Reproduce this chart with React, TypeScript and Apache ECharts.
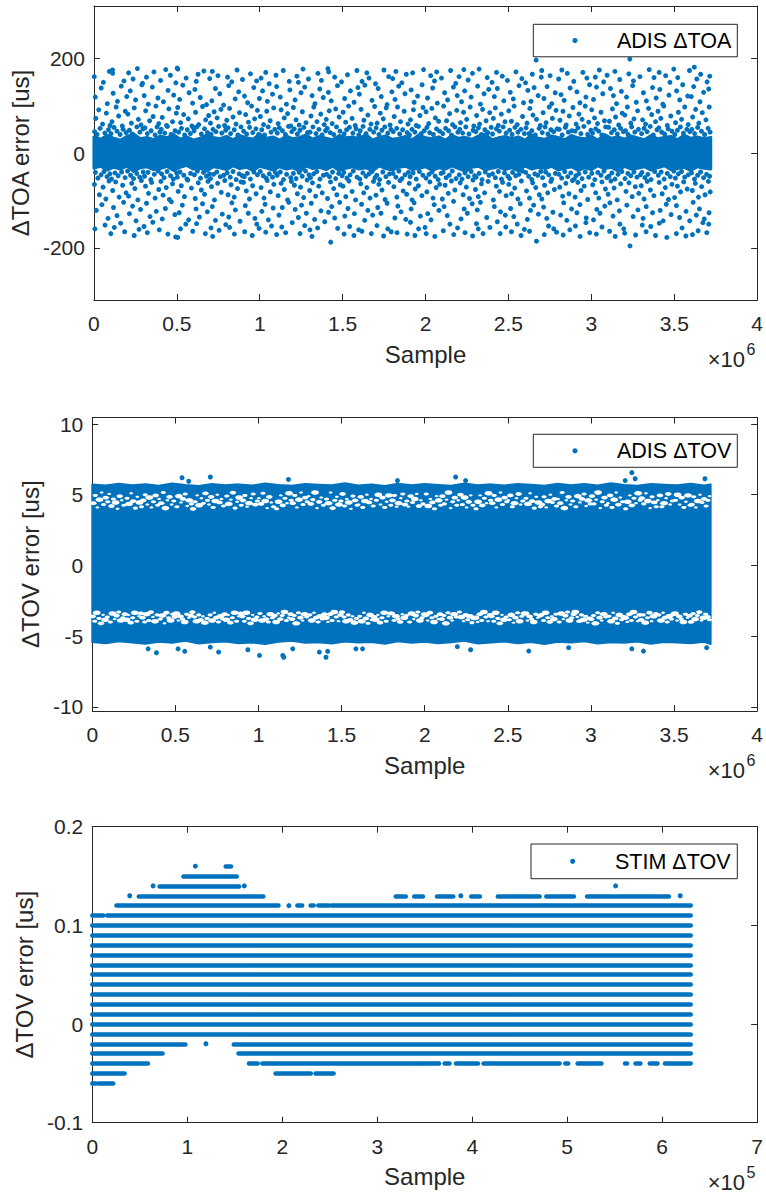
import React, { useEffect, useRef } from 'react';
import * as echarts from 'echarts';

const BLUE = '#0072BD';
const INK = '#262626';
const FONT = '"Liberation Sans", Arial, sans-serif';

// ---------- Chart 1 : ADIS ΔTOA (sample ×10^6, error in us) ----------
const toaYTicks = [-200, 0, 200];
const toaBandX = [0, 0.04, 0.08, 0.12, 0.16, 0.2, 0.24, 0.28, 0.32, 0.36, 0.4, 0.44, 0.48, 0.52, 0.56, 0.6, 0.64, 0.68, 0.72, 0.76, 0.8, 0.84, 0.88, 0.92, 0.96, 1.0, 1.04, 1.08, 1.12, 1.16, 1.2, 1.24, 1.28, 1.32, 1.36, 1.4, 1.44, 1.48, 1.52, 1.56, 1.6, 1.64, 1.68, 1.72, 1.76, 1.8, 1.84, 1.88, 1.92, 1.96, 2.0, 2.04, 2.08, 2.12, 2.16, 2.2, 2.24, 2.28, 2.32, 2.36, 2.4, 2.44, 2.48, 2.52, 2.56, 2.6, 2.64, 2.68, 2.72, 2.76, 2.8, 2.84, 2.88, 2.92, 2.96, 3.0, 3.04, 3.08, 3.12, 3.16, 3.2, 3.24, 3.28, 3.32, 3.36, 3.4, 3.44, 3.48, 3.52, 3.56, 3.6, 3.64, 3.68, 3.72];
const toaBandUpper = [
  34, 29, 37, 31, 27, 35, 40, 30, 33, 28, 36, 32, 39, 29, 34, 27, 31, 38, 33, 30,
  35, 28, 37, 32, 29, 40, 31, 34, 27, 36, 30, 33, 38, 29, 35, 31, 28, 37, 32, 34,
  30, 39, 27, 33, 36, 29, 31, 35, 28, 38, 32, 30, 34, 27, 37, 31, 33, 29, 36, 40,
  28, 32, 35, 30, 34, 27, 38, 31, 29, 36, 33, 28, 37, 32, 30, 35, 27, 39, 31, 34,
  29, 36, 32, 28, 37, 30, 33, 35, 28, 38, 31, 34, 30, 33];
const toaBandLower = [
  -32, -28, -36, -30, -34, -27, -39, -31, -29, -35, -33, -28, -37, -30, -26, -34, -32, -38, -29, -31,
  -35, -27, -33, -30, -37, -28, -32, -36, -29, -34, -31, -39, -27, -33, -30, -35, -28, -37, -32, -29,
  -34, -31, -38, -27, -33, -36, -30, -28, -35, -32, -29, -37, -31, -34, -27, -33, -39, -30, -28, -36,
  -32, -29, -35, -31, -38, -27, -34, -30, -33, -28, -36, -32, -29, -37, -31, -35, -27, -33, -30, -38,
  -28, -34, -32, -29, -36, -31, -27, -35, -33, -30, -37, -29, -32, -34];
const toaOutliersUpper: number[][] = [
  [0.004,45],[0.019,39],[0.037,52],[0.066,42],[0.088,49],[0.011,73],[0.029,91],[0.052,61],[0.075,84],[0.097,58],[0.008,118],[0.044,137],[0.081,104],[0.002,161],[0.057,149],[0.093,172],
  [0.103,41],[0.121,54],[0.139,46],[0.158,39],[0.176,50],[0.194,43],[0.109,66],[0.134,97],[0.149,78],[0.171,57],[0.189,88],[0.116,126],[0.142,109],[0.165,141],[0.198,119],[0.112,175],[0.113,168],[0.181,152],
  [0.214,48],[0.231,40],[0.259,55],[0.277,44],[0.296,51],[0.205,82],[0.226,63],[0.243,95],[0.268,71],[0.284,59],[0.219,131],[0.251,112],[0.289,144],[0.209,169],[0.236,156],[0.262,178],[0.293,147],
  [0.308,53],[0.322,41],[0.345,47],[0.369,38],[0.381,55],[0.398,44],[0.312,89],[0.336,68],[0.357,77],[0.374,99],[0.391,62],[0.303,121],[0.328,103],[0.352,139],[0.386,116],[0.317,160],[0.362,171],
  [0.406,50],[0.427,42],[0.443,56],[0.466,39],[0.489,47],[0.412,75],[0.438,58],[0.452,93],[0.474,66],[0.497,84],[0.419,108],[0.447,132],[0.481,122],[0.402,153],[0.433,176],[0.461,164],[0.494,148],
  [0.511,44],[0.528,52],[0.547,38],[0.563,49],[0.582,41],[0.599,54],[0.505,96],[0.523,64],[0.541,81],[0.569,72],[0.591,57],[0.517,113],[0.536,143],[0.574,127],[0.595,105],[0.502,179],[0.506,177],[0.556,158],
  [0.604,47],[0.621,55],[0.648,40],[0.667,51],[0.685,43],[0.613,86],[0.632,60],[0.655,98],[0.674,70],[0.692,79],[0.609,134],[0.641,117],[0.679,102],[0.617,151],[0.628,166],[0.663,173],[0.698,157],
  [0.707,39],[0.718,50],[0.736,45],[0.752,56],[0.771,42],[0.794,48],[0.703,63],[0.725,87],[0.743,74],[0.766,92],[0.788,58],[0.711,110],[0.733,136],[0.759,125],[0.782,101],[0.714,172],[0.748,163],
  [0.809,53],[0.824,41],[0.846,49],[0.868,38],[0.887,55],[0.801,69],[0.818,94],[0.839,76],[0.857,61],[0.878,85],[0.813,142],[0.852,114],[0.873,129],[0.806,160],[0.831,150],[0.863,175],[0.896,155],
  [0.903,46],[0.921,40],[0.939,54],[0.958,43],[0.977,51],[0.993,39],[0.915,81],[0.932,65],[0.951,99],[0.969,72],[0.986,90],[0.908,120],[0.927,106],[0.964,138],[0.998,115],[0.944,167],[0.981,152],
  [1.012,49],[1.029,38],[1.051,55],[1.068,44],[1.091,50],[1.004,77],[1.023,60],[1.042,88],[1.063,68],[1.084,95],[1.017,131],[1.046,109],[1.077,124],[1.008,158],[1.036,170],[1.057,146],[1.098,164],
  [1.106,42],[1.118,53],[1.137,47],[1.155,39],[1.174,56],[1.193,45],[1.111,62],[1.129,91],[1.148,74],[1.168,83],[1.187,57],[1.102,140],[1.124,118],[1.161,103],[1.182,133],[1.142,174],[1.178,151],
  [1.208,51],[1.227,40],[1.243,48],[1.266,54],[1.288,43],[1.203,96],[1.219,70],[1.238,59],[1.257,87],[1.279,64],[1.213,112],[1.249,127],[1.271,139],[1.224,162],[1.233,149],[1.261,177],[1.294,156],
  [1.304,44],[1.321,55],[1.339,41],[1.357,50],[1.376,38],[1.397,47],[1.309,78],[1.326,97],[1.345,66],[1.368,82],[1.389,60],[1.316,121],[1.333,104],[1.362,135],[1.383,117],[1.351,168],[1.372,153],
  [1.407,52],[1.425,43],[1.446,39],[1.463,55],[1.484,46],[1.401,71],[1.419,89],[1.437,62],[1.458,93],[1.479,76],[1.414,128],[1.431,110],[1.469,142],[1.411,178],[1.416,171],[1.452,160],[1.493,150],
  [1.509,40],[1.524,49],[1.541,54],[1.562,42],[1.581,51],[1.598,38],[1.503,86],[1.518,65],[1.536,99],[1.557,73],[1.576,58],[1.512,115],[1.547,131],[1.569,107],[1.592,138],[1.529,165],[1.586,174],
  [1.606,47],[1.623,56],[1.641,41],[1.664,50],[1.687,44],[1.611,92],[1.628,69],[1.652,80],[1.671,61],[1.693,98],[1.601,124],[1.634,143],[1.677,111],[1.617,151],[1.646,169],[1.659,158],[1.698,146],
  [1.702,53],[1.719,39],[1.737,48],[1.754,55],[1.772,42],[1.791,50],[1.708,63],[1.727,84],[1.745,72],[1.763,95],[1.786,59],[1.714,136],[1.733,119],[1.768,102],[1.797,129],[1.749,175],[1.778,161],
  [1.805,45],[1.826,52],[1.844,40],[1.862,49],[1.889,43],[1.811,77],[1.831,97],[1.849,66],[1.871,88],[1.894,61],[1.816,113],[1.838,141],[1.876,125],[1.802,157],[1.821,172],[1.857,148],[1.884,166],
  [1.903,38],[1.918,50],[1.936,44],[1.957,56],[1.974,41],[1.992,47],[1.909,70],[1.927,91],[1.944,58],[1.966,79],[1.985,96],[1.913,133],[1.931,107],[1.952,120],[1.979,144],[1.922,169],[1.988,176],
  [2.008,54],[2.025,43],[2.047,39],[2.066,51],[2.085,46],[2.003,87],[2.019,62],[2.038,94],[2.059,74],[2.079,67],[2.012,116],[2.043,137],[2.071,105],[2.031,163],[2.054,152],[2.067,171],[2.096,158],
  [2.104,41],[2.121,52],[2.139,47],[2.156,38],[2.177,55],[2.195,44],[2.109,99],[2.127,68],[2.145,83],[2.163,60],[2.188,90],[2.115,127],[2.133,112],[2.168,139],[2.191,121],[2.151,174],[2.182,147],
  [2.206,50],[2.224,42],[2.243,55],[2.262,40],[2.287,48],[2.211,64],[2.229,86],[2.248,71],[2.269,97],[2.291,57],[2.217,108],[2.236,131],[2.275,118],[2.202,161],[2.231,176],[2.257,154],[2.283,168],
  [2.303,45],[2.319,53],[2.337,39],[2.358,49],[2.376,43],[2.396,54],[2.308,79],[2.326,61],[2.344,92],[2.365,68],[2.387,85],[2.314,141],[2.331,103],[2.353,125],[2.381,134],[2.323,177],[2.372,159],
  [2.404,40],[2.427,51],[2.445,46],[2.468,55],[2.486,42],[2.409,73],[2.421,95],[2.439,58],[2.457,82],[2.479,66],[2.415,119],[2.433,136],[2.472,110],[2.401,149],[2.428,170],[2.463,162],[2.494,153],
  [2.507,48],[2.522,39],[2.539,54],[2.557,44],[2.575,50],[2.596,41],[2.502,89],[2.518,67],[2.534,99],[2.553,60],[2.585,77],[2.511,128],[2.529,114],[2.564,142],[2.591,106],[2.545,171],[2.581,157],
  [2.606,53],[2.623,41],[2.641,47],[2.662,38],[2.685,52],[2.612,63],[2.629,94],[2.648,80],[2.669,71],[2.692,58],[2.617,132],[2.636,109],[2.655,138],[2.679,121],[2.603,148],[2.644,166],[2.667,196],[2.698,160],
  [2.704,43],[2.721,55],[2.738,40],[2.756,49],[2.773,45],[2.794,51],[2.709,85],[2.727,64],[2.746,97],[2.765,73],[2.787,90],[2.714,115],[2.733,140],[2.761,104],[2.782,127],[2.701,174],[2.751,163],
  [2.806,50],[2.824,38],[2.843,54],[2.861,44],[2.883,47],[2.811,69],[2.829,88],[2.848,59],[2.867,78],[2.889,96],[2.817,123],[2.836,111],[2.872,137],[2.803,156],[2.822,175],[2.855,168],[2.894,151],
  [2.902,46],[2.919,53],[2.937,41],[2.955,56],[2.978,39],[2.997,48],[2.908,61],[2.925,82],[2.944,71],[2.963,99],[2.984,65],[2.913,129],[2.931,106],[2.967,118],[2.989,144],[2.949,170],[2.973,158],
  [3.007,42],[3.026,51],[3.044,46],[3.063,38],[3.086,55],[3.002,91],[3.019,74],[3.037,62],[3.058,86],[3.079,68],[3.013,113],[3.031,139],[3.069,125],[3.024,160],[3.048,175],[3.074,150],[3.095,164],
  [3.104,54],[3.121,43],[3.138,49],[3.157,40],[3.176,52],[3.193,45],[3.109,67],[3.127,93],[3.146,76],[3.165,59],[3.186,84],[3.115,136],[3.133,121],[3.152,104],[3.181,130],[3.142,172],[3.171,155],
  [3.206,47],[3.221,39],[3.243,55],[3.262,44],[3.284,50],[3.202,80],[3.217,97],[3.238,63],[3.257,72],[3.279,89],[3.212,118],[3.249,142],[3.271,107],[3.226,167],[3.232,198],[3.254,152],[3.293,161],
  [3.303,41],[3.318,52],[3.336,45],[3.355,56],[3.374,38],[3.396,49],[3.309,70],[3.327,61],[3.345,94],[3.364,81],[3.387,66],[3.314,127],[3.332,110],[3.369,138],[3.391,116],[3.349,176],[3.378,159],
  [3.407,53],[3.424,44],[3.442,40],[3.463,51],[3.486,46],[3.402,88],[3.419,73],[3.437,99],[3.458,58],[3.479,78],[3.413,134],[3.431,103],[3.468,122],[3.409,170],[3.448,163],[3.474,149],[3.497,177],
  [3.503,39],[3.519,48],[3.537,55],[3.555,42],[3.576,50],[3.594,45],[3.508,64],[3.525,86],[3.544,71],[3.563,97],[3.584,60],[3.514,131],[3.533,112],[3.551,144],[3.581,120],[3.521,159],[3.592,174],
  [3.606,50],[3.623,41],[3.641,54],[3.664,46],[3.683,39],[3.704,52],[3.716,44],[3.611,76],[3.629,92],[3.648,63],[3.669,85],[3.691,70],[3.711,97],[3.603,119],[3.617,140],[3.655,108],[3.677,128],[3.708,135],[3.621,181],[3.636,156],[3.659,166],[3.698,150],[3.714,162],
];
const toaOutliersLower: number[][] = [
  [0.009,-41],[0.024,-53],[0.043,-46],[0.061,-39],[0.079,-50],[0.096,-44],[0.003,-66],[0.033,-88],[0.055,-72],[0.072,-97],[0.091,-59],[0.014,-121],[0.048,-109],[0.085,-138],[0.006,-160],[0.067,-152],
  [0.106,-55],[0.127,-42],[0.146,-48],[0.167,-40],[0.188,-52],[0.113,-79],[0.131,-61],[0.152,-93],[0.173,-68],[0.194,-84],[0.118,-115],[0.139,-132],[0.179,-104],[0.102,-170],[0.123,-157],[0.161,-148],[0.185,-166],
  [0.203,-38],[0.221,-47],[0.239,-54],[0.258,-43],[0.276,-51],[0.297,-40],[0.209,-91],[0.228,-64],[0.247,-75],[0.265,-99],[0.286,-58],[0.214,-128],[0.233,-112],[0.254,-143],[0.281,-119],[0.243,-174],[0.272,-161],
  [0.305,-49],[0.326,-41],[0.343,-56],[0.364,-45],[0.387,-38],[0.311,-70],[0.329,-85],[0.348,-62],[0.369,-95],[0.391,-77],[0.317,-106],[0.338,-134],[0.376,-123],[0.302,-155],[0.322,-168],[0.355,-146],[0.394,-162],
  [0.408,-44],[0.423,-52],[0.441,-39],[0.462,-48],[0.479,-55],[0.499,-42],[0.404,-60],[0.417,-89],[0.436,-73],[0.455,-98],[0.474,-65],[0.412,-139],[0.431,-117],[0.467,-103],[0.488,-130],[0.446,-171],[0.493,-177],
  [0.503,-51],[0.519,-40],[0.542,-47],[0.561,-55],[0.583,-43],[0.508,-81],[0.527,-69],[0.546,-92],[0.566,-57],[0.588,-74],[0.514,-126],[0.533,-110],[0.571,-141],[0.505,-178],[0.522,-160],[0.554,-150],[0.596,-165],
  [0.606,-46],[0.624,-38],[0.643,-53],[0.661,-41],[0.679,-49],[0.697,-44],[0.611,-96],[0.629,-63],[0.648,-78],[0.667,-87],[0.688,-60],[0.616,-118],[0.636,-135],[0.655,-107],[0.684,-124],[0.619,-149],[0.672,-170],
  [0.703,-54],[0.721,-45],[0.741,-40],[0.762,-50],[0.783,-47],[0.709,-71],[0.727,-99],[0.746,-64],[0.768,-83],[0.789,-58],[0.714,-113],[0.733,-142],[0.774,-129],[0.706,-158],[0.716,-176],[0.755,-163],[0.795,-151],
  [0.804,-42],[0.822,-51],[0.839,-39],[0.858,-56],[0.876,-44],[0.895,-48],[0.809,-88],[0.827,-67],[0.846,-93],[0.866,-75],[0.887,-61],[0.813,-135],[0.832,-105],[0.853,-120],[0.881,-144],[0.818,-157],[0.847,-171],
  [0.907,-50],[0.925,-43],[0.944,-55],[0.965,-40],[0.986,-46],[0.902,-62],[0.919,-80],[0.938,-97],[0.957,-69],[0.978,-86],[0.913,-111],[0.931,-127],[0.971,-138],[0.909,-166],[0.955,-174],[0.982,-150],[0.996,-159],
  [1.003,-39],[1.021,-48],[1.039,-53],[1.058,-44],[1.077,-51],[1.094,-41],[1.008,-73],[1.026,-95],[1.045,-58],[1.064,-82],[1.085,-66],[1.013,-123],[1.032,-108],[1.052,-141],[1.081,-116],[1.036,-167],[1.071,-154],
  [1.105,-47],[1.124,-40],[1.143,-56],[1.162,-45],[1.187,-52],[1.111,-90],[1.129,-64],[1.148,-77],[1.168,-99],[1.191,-60],[1.116,-131],[1.136,-115],[1.175,-104],[1.102,-172],[1.133,-156],[1.156,-168],[1.196,-147],
  [1.203,-43],[1.219,-54],[1.238,-41],[1.256,-49],[1.276,-38],[1.297,-46],[1.209,-68],[1.227,-86],[1.246,-72],[1.265,-94],[1.286,-57],[1.214,-119],[1.233,-136],[1.252,-110],[1.281,-127],[1.243,-170],[1.271,-153],
  [1.306,-52],[1.325,-44],[1.344,-39],[1.363,-55],[1.384,-47],[1.301,-79],[1.318,-63],[1.337,-91],[1.356,-70],[1.377,-84],[1.311,-106],[1.331,-140],[1.369,-122],[1.303,-162],[1.315,-176],[1.349,-158],[1.392,-145],
  [1.404,-45],[1.421,-50],[1.439,-40],[1.458,-54],[1.476,-43],[1.497,-48],[1.409,-96],[1.427,-61],[1.446,-75],[1.465,-88],[1.486,-67],[1.415,-125],[1.434,-113],[1.452,-137],[1.482,-104],[1.428,-188],[1.47,-159],
  [1.507,-41],[1.526,-53],[1.545,-46],[1.564,-38],[1.587,-51],[1.502,-70],[1.519,-92],[1.538,-59],[1.557,-81],[1.578,-99],[1.513,-133],[1.532,-117],[1.571,-128],[1.509,-171],[1.542,-155],[1.568,-174],[1.597,-162],
  [1.604,-55],[1.622,-42],[1.641,-49],[1.659,-44],[1.677,-39],[1.695,-52],[1.609,-65],[1.627,-84],[1.646,-73],[1.665,-95],[1.686,-60],[1.614,-108],[1.633,-142],[1.652,-121],[1.681,-131],[1.616,-165],[1.673,-170],
  [1.706,-47],[1.723,-56],[1.742,-40],[1.761,-50],[1.783,-44],[1.701,-89],[1.718,-66],[1.737,-78],[1.756,-98],[1.777,-62],[1.712,-115],[1.731,-127],[1.768,-106],[1.707,-153],[1.747,-175],[1.772,-160],[1.793,-166],
  [1.804,-43],[1.821,-51],[1.839,-38],[1.858,-54],[1.876,-46],[1.897,-41],[1.809,-71],[1.827,-93],[1.846,-58],[1.865,-80],[1.886,-87],[1.815,-137],[1.833,-112],[1.852,-124],[1.881,-140],[1.828,-168],[1.889,-171],
  [1.907,-50],[1.925,-42],[1.944,-55],[1.963,-39],[1.984,-47],[1.902,-64],[1.919,-99],[1.938,-76],[1.957,-69],[1.978,-90],[1.913,-118],[1.931,-105],[1.969,-133],[1.909,-146],[1.936,-174],[1.958,-160],[1.997,-157],
  [2.003,-53],[2.021,-45],[2.039,-40],[2.058,-49],[2.076,-56],[2.094,-43],[2.008,-82],[2.026,-61],[2.045,-95],[2.064,-73],[2.085,-66],[2.013,-128],[2.033,-141],[2.052,-109],[2.081,-121],[2.004,-170],[2.056,-176],
  [2.106,-41],[2.124,-52],[2.143,-47],[2.161,-38],[2.184,-54],[2.101,-97],[2.118,-68],[2.137,-85],[2.156,-59],[2.177,-78],[2.112,-113],[2.131,-132],[2.169,-102],[2.107,-164],[2.147,-150],[2.17,-172],[2.193,-158],
  [2.203,-46],[2.22,-55],[2.238,-42],[2.257,-50],[2.275,-39],[2.296,-48],[2.209,-63],[2.227,-88],[2.246,-72],[2.265,-96],[2.286,-57],[2.214,-139],[2.233,-118],[2.252,-127],[2.281,-107],[2.238,-168],[2.284,-175],
  [2.305,-51],[2.323,-43],[2.341,-56],[2.36,-40],[2.382,-47],[2.301,-77],[2.318,-92],[2.337,-65],[2.356,-84],[2.377,-60],[2.312,-120],[2.331,-104],[2.369,-136],[2.307,-149],[2.318,-160],[2.347,-170],[2.388,-157],
  [2.404,-44],[2.421,-52],[2.439,-39],[2.458,-55],[2.476,-42],[2.497,-49],[2.409,-99],[2.427,-70],[2.446,-81],[2.465,-62],[2.486,-90],[2.415,-113],[2.433,-145],[2.452,-124],[2.481,-131],[2.45,-170],[2.484,-156],
  [2.507,-54],[2.525,-41],[2.544,-48],[2.563,-45],[2.584,-38],[2.502,-66],[2.519,-86],[2.538,-74],[2.557,-97],[2.578,-59],[2.513,-117],[2.532,-134],[2.571,-107],[2.518,-166],[2.553,-150],[2.576,-174],[2.596,-161],
  [2.604,-41],[2.622,-49],[2.641,-56],[2.659,-44],[2.677,-47],[2.695,-39],[2.609,-80],[2.627,-95],[2.646,-63],[2.665,-73],[2.686,-88],[2.614,-140],[2.633,-121],[2.652,-110],[2.681,-129],[2.627,-165],[2.669,-186],
  [2.706,-52],[2.724,-40],[2.743,-46],[2.761,-55],[2.783,-43],[2.701,-97],[2.718,-68],[2.737,-84],[2.756,-60],[2.777,-77],[2.712,-114],[2.731,-138],[2.768,-125],[2.716,-172],[2.742,-154],[2.773,-160],[2.79,-167],
  [2.804,-45],[2.821,-53],[2.839,-39],[2.858,-50],[2.876,-42],[2.897,-55],[2.809,-72],[2.827,-91],[2.846,-64],[2.865,-86],[2.886,-58],[2.815,-131],[2.833,-105],[2.852,-142],[2.881,-118],[2.83,-173],[2.87,-162],
  [2.907,-48],[2.925,-44],[2.944,-54],[2.963,-40],[2.984,-51],[2.902,-93],[2.919,-62],[2.938,-79],[2.957,-70],[2.978,-98],[2.913,-126],[2.931,-109],[2.969,-137],[2.904,-154],[2.932,-176],[2.967,-147],[2.99,-168],
  [3.003,-43],[3.021,-56],[3.039,-41],[3.058,-47],[3.076,-38],[3.094,-52],[3.008,-67],[3.026,-84],[3.045,-95],[3.064,-61],[3.085,-76],[3.013,-141],[3.033,-119],[3.052,-127],[3.081,-112],[3.03,-171],[3.064,-156],
  [3.106,-49],[3.124,-42],[3.143,-55],[3.161,-45],[3.184,-39],[3.101,-87],[3.118,-59],[3.137,-74],[3.156,-99],[3.177,-65],[3.112,-105],[3.131,-133],[3.169,-122],[3.11,-165],[3.144,-176],[3.172,-150],[3.195,-160],
  [3.203,-54],[3.22,-43],[3.238,-48],[3.257,-40],[3.275,-51],[3.296,-46],[3.209,-81],[3.227,-63],[3.246,-92],[3.265,-71],[3.286,-85],[3.214,-110],[3.233,-196],[3.252,-134],[3.281,-120],[3.201,-169],[3.267,-173],
  [3.305,-41],[3.323,-52],[3.341,-45],[3.36,-56],[3.382,-39],[3.301,-69],[3.318,-97],[3.337,-60],[3.356,-78],[3.377,-90],[3.312,-138],[3.331,-113],[3.369,-126],[3.307,-152],[3.33,-166],[3.358,-155],[3.387,-174],
  [3.404,-47],[3.421,-40],[3.439,-55],[3.458,-43],[3.476,-50],[3.497,-38],[3.409,-62],[3.427,-86],[3.446,-73],[3.465,-98],[3.486,-66],[3.415,-121],[3.433,-143],[3.452,-108],[3.481,-130],[3.41,-148],[3.455,-178],
  [3.507,-53],[3.525,-44],[3.544,-39],[3.563,-51],[3.584,-46],[3.502,-94],[3.519,-70],[3.538,-82],[3.557,-61],[3.578,-76],[3.513,-111],[3.532,-136],[3.571,-123],[3.513,-170],[3.547,-158],[3.57,-175],[3.593,-143],
  [3.604,-42],[3.622,-55],[3.641,-47],[3.659,-40],[3.677,-52],[3.695,-45],[3.713,-49],[3.609,-79],[3.627,-64],[3.646,-93],[3.665,-71],[3.686,-88],[3.706,-60],[3.717,-82],[3.614,-104],[3.633,-131],[3.652,-118],[3.681,-139],[3.71,-126],[3.61,-172],[3.644,-164],[3.673,-147],[3.696,-168],[3.708,-150],
];

// ---------- Chart 2 : ADIS ΔTOV ----------
const tovYTicks = [-10, -5, 0, 5, 10];
const tovBandX = [0, 0.08, 0.16, 0.24, 0.32, 0.4, 0.48, 0.56, 0.64, 0.72, 0.8, 0.88, 0.96, 1.04, 1.12, 1.2, 1.28, 1.36, 1.44, 1.52, 1.6, 1.68, 1.76, 1.84, 1.92, 2.0, 2.08, 2.16, 2.24, 2.32, 2.4, 2.48, 2.56, 2.64, 2.72, 2.8, 2.88, 2.96, 3.04, 3.12, 3.2, 3.28, 3.36, 3.44, 3.52, 3.6, 3.68, 3.72];
const tovUpper = [5.72, 5.65, 5.78, 5.67, 5.74, 5.63, 5.8, 5.69, 5.62, 5.76, 5.67, 5.73, 5.65, 5.79, 5.69, 5.63, 5.76, 5.71, 5.67, 5.81, 5.65, 5.73, 5.62, 5.78, 5.67, 5.75, 5.69, 5.63, 5.79, 5.67, 5.73, 5.65, 5.76, 5.71, 5.63, 5.78, 5.67, 5.75, 5.65, 5.81, 5.69, 5.63, 5.76, 5.71, 5.67, 5.78, 5.65, 5.73];
const tovLower = [-5.42, -5.5, -5.36, -5.46, -5.55, -5.4, -5.48, -5.34, -5.52, -5.44, -5.38, -5.5, -5.46, -5.56, -5.4, -5.34, -5.48, -5.44, -5.52, -5.38, -5.46, -5.42, -5.54, -5.36, -5.48, -5.4, -5.5, -5.44, -5.34, -5.52, -5.46, -5.38, -5.5, -5.42, -5.56, -5.4, -5.46, -5.36, -5.52, -5.44, -5.48, -5.38, -5.54, -5.42, -5.46, -5.5, -5.4, -5.56];
// empty pockets inside the dense cloud: [sample, error, size px]
const tovGapsTop: number[][] = [
  [0.006,4.4,5],[0.018,4.95,4],[0.031,4.1,3],[0.043,4.65,6],[0.056,5.15,3],[0.068,4.3,4],[0.081,4.8,5],[0.093,4.5,4],
  [0.102,5.05,3],[0.115,4.2,5],[0.127,4.7,4],[0.14,4.45,6],[0.152,4.0,3],[0.165,4.9,5],[0.177,4.6,3],[0.19,4.25,4],
  [0.209,4.75,4],[0.221,4.35,6],[0.234,5.1,3],[0.246,4.55,5],[0.259,4.05,4],[0.271,4.85,3],[0.284,4.45,6],[0.296,4.15,4],
  [0.306,4.6,5],[0.318,5.0,4],[0.331,4.3,3],[0.343,4.8,6],[0.356,4.1,3],[0.368,4.5,4],[0.381,4.95,5],[0.393,4.25,4],
  [0.402,4.7,3],[0.415,4.4,5],[0.427,5.15,4],[0.44,4.05,6],[0.452,4.6,3],[0.465,4.85,5],[0.477,4.3,3],[0.49,4.55,4],
  [0.509,4.15,4],[0.521,4.9,6],[0.534,4.45,3],[0.546,4.7,5],[0.559,5.05,4],[0.571,4.2,3],[0.584,4.6,6],[0.596,4.35,4],
  [0.606,4.0,5],[0.618,4.5,4],[0.631,4.95,3],[0.643,4.25,6],[0.656,4.75,3],[0.668,4.4,4],[0.681,5.1,5],[0.693,4.6,4],
  [0.702,4.3,3],[0.715,4.85,5],[0.727,4.1,4],[0.74,4.55,6],[0.752,5.0,3],[0.765,4.45,5],[0.777,4.7,3],[0.79,4.2,4],
  [0.809,4.9,4],[0.821,4.35,6],[0.834,4.65,3],[0.846,5.15,5],[0.859,4.05,4],[0.871,4.5,3],[0.884,4.8,6],[0.896,4.25,4],
  [0.906,4.6,5],[0.918,4.95,4],[0.931,4.15,3],[0.943,4.4,6],[0.956,4.75,3],[0.968,5.05,4],[0.981,4.3,5],[0.993,4.55,4],
  [1.002,4.75,3],[1.015,4.35,5],[1.027,5.1,4],[1.04,4.55,6],[1.052,4.05,3],[1.065,4.85,5],[1.077,4.45,3],[1.09,4.15,4],
  [1.109,4.0,4],[1.121,4.5,6],[1.134,4.95,3],[1.146,4.25,5],[1.159,4.75,4],[1.171,4.4,3],[1.184,5.1,6],[1.196,4.6,4],
  [1.206,4.4,5],[1.218,4.95,4],[1.231,4.1,3],[1.243,4.65,6],[1.256,5.15,3],[1.268,4.3,4],[1.281,4.8,5],[1.293,4.5,4],
  [1.302,4.9,3],[1.315,4.35,5],[1.327,4.65,4],[1.34,5.15,6],[1.352,4.05,3],[1.365,4.5,5],[1.377,4.8,3],[1.39,4.25,4],
  [1.409,4.7,4],[1.421,4.4,6],[1.434,5.15,3],[1.446,4.05,5],[1.459,4.6,4],[1.471,4.85,3],[1.484,4.3,6],[1.496,4.55,4],
  [1.506,5.05,5],[1.518,4.2,4],[1.531,4.7,3],[1.543,4.45,6],[1.556,4.0,3],[1.568,4.9,4],[1.581,4.6,5],[1.593,4.25,4],
  [1.602,4.3,3],[1.615,4.85,5],[1.627,4.1,4],[1.64,4.55,6],[1.652,5.0,3],[1.665,4.45,5],[1.677,4.7,3],[1.69,4.2,4],
  [1.709,4.6,4],[1.721,5.0,6],[1.734,4.3,3],[1.746,4.8,5],[1.759,4.1,4],[1.771,4.5,3],[1.784,4.95,6],[1.796,4.25,4],
  [1.806,4.6,5],[1.818,4.95,4],[1.831,4.15,3],[1.843,4.4,6],[1.856,4.75,3],[1.868,5.05,4],[1.881,4.3,5],[1.893,4.55,4],
  [1.902,4.15,3],[1.915,4.9,5],[1.927,4.45,4],[1.94,4.7,6],[1.952,5.05,3],[1.965,4.2,5],[1.977,4.6,3],[1.99,4.35,4],
  [2.009,5.05,4],[2.021,4.2,6],[2.034,4.7,3],[2.046,4.45,5],[2.059,4.0,4],[2.071,4.9,3],[2.084,4.6,6],[2.096,4.25,4],
  [2.106,4.9,5],[2.118,4.35,4],[2.131,4.65,3],[2.143,5.15,6],[2.156,4.05,3],[2.168,4.5,4],[2.181,4.8,5],[2.193,4.25,4],
  [2.202,4.6,3],[2.215,5.0,5],[2.227,4.3,4],[2.24,4.8,6],[2.252,4.1,3],[2.265,4.5,5],[2.277,4.95,3],[2.29,4.25,4],
  [2.309,4.0,4],[2.321,4.5,6],[2.334,4.95,3],[2.346,4.25,5],[2.359,4.75,4],[2.371,4.4,3],[2.384,5.1,6],[2.396,4.6,4],
  [2.406,4.4,5],[2.418,4.95,4],[2.431,4.1,3],[2.443,4.65,6],[2.456,5.15,3],[2.468,4.3,4],[2.481,4.8,5],[2.493,4.5,4],
  [2.502,4.6,3],[2.515,4.95,5],[2.527,4.15,4],[2.54,4.4,6],[2.552,4.75,3],[2.565,5.05,5],[2.577,4.3,3],[2.59,4.55,4],
  [2.609,4.75,4],[2.621,4.35,6],[2.634,5.1,3],[2.646,4.55,5],[2.659,4.05,4],[2.671,4.85,3],[2.684,4.45,6],[2.696,4.15,4],
  [2.706,4.3,5],[2.718,4.85,4],[2.731,4.1,3],[2.743,4.55,6],[2.756,5.0,3],[2.768,4.45,4],[2.781,4.7,5],[2.793,4.2,4],
  [2.802,4.7,3],[2.815,4.4,5],[2.827,5.15,4],[2.84,4.05,6],[2.852,4.6,3],[2.865,4.85,5],[2.877,4.3,3],[2.89,4.55,4],
  [2.909,4.15,4],[2.921,4.9,6],[2.934,4.45,3],[2.946,4.7,5],[2.959,5.05,4],[2.971,4.2,3],[2.984,4.6,6],[2.996,4.35,4],
  [3.006,4.9,5],[3.018,4.35,4],[3.031,4.65,3],[3.043,5.15,6],[3.056,4.05,3],[3.068,4.5,4],[3.081,4.8,5],[3.093,4.25,4],
  [3.102,4.4,3],[3.115,4.95,5],[3.127,4.1,4],[3.14,4.65,6],[3.152,5.15,3],[3.165,4.3,5],[3.177,4.8,3],[3.19,4.5,4],
  [3.209,4.0,4],[3.221,4.5,6],[3.234,4.95,3],[3.246,4.25,5],[3.259,4.75,4],[3.271,4.4,3],[3.284,5.1,6],[3.296,4.6,4],
  [3.306,4.75,5],[3.318,4.35,4],[3.331,5.1,3],[3.343,4.55,6],[3.356,4.05,3],[3.368,4.85,4],[3.381,4.45,5],[3.393,4.15,4],
  [3.402,4.6,3],[3.415,4.95,5],[3.427,4.15,4],[3.44,4.4,6],[3.452,4.75,3],[3.465,5.05,5],[3.477,4.3,3],[3.49,4.55,4],
  [3.509,4.6,4],[3.521,5.0,6],[3.534,4.3,3],[3.546,4.8,5],[3.559,4.1,4],[3.571,4.5,3],[3.584,4.95,6],[3.596,4.25,4],
  [3.606,4.3,5],[3.618,4.85,4],[3.631,4.1,3],[3.643,4.55,6],[3.656,5.0,3],[3.668,4.45,4],[3.681,4.7,5],[3.693,4.2,4],
  [3.704,4.6,4],[3.714,4.9,3],
];
const tovGapsBottom: number[][] = [
  [0.002,-3.6,5],[0.015,-3.95,4],[0.027,-3.35,6],[0.04,-3.75,4],[0.052,-4.1,5],[0.065,-3.5,3],[0.077,-3.85,6],[0.09,-3.65,4],
  [0.109,-4.0,4],[0.121,-3.4,6],[0.134,-3.8,3],[0.146,-3.55,5],[0.159,-3.3,4],[0.171,-3.9,6],[0.184,-3.7,4],[0.196,-3.45,5],
  [0.206,-3.85,6],[0.218,-3.5,3],[0.231,-4.05,5],[0.243,-3.7,4],[0.256,-3.35,6],[0.268,-3.95,4],[0.281,-3.6,3],[0.293,-3.4,5],
  [0.302,-3.7,5],[0.315,-4.0,4],[0.327,-3.45,6],[0.34,-3.9,4],[0.352,-3.3,5],[0.365,-3.65,3],[0.377,-3.95,6],[0.39,-3.5,4],
  [0.409,-3.8,4],[0.421,-3.55,6],[0.434,-4.1,3],[0.446,-3.35,5],[0.459,-3.7,4],[0.471,-3.9,6],[0.484,-3.45,4],[0.496,-3.65,5],
  [0.506,-3.4,6],[0.518,-3.9,3],[0.531,-3.6,5],[0.543,-3.8,4],[0.556,-4.0,6],[0.568,-3.45,4],[0.581,-3.7,3],[0.593,-3.55,5],
  [0.602,-3.3,5],[0.615,-3.65,4],[0.627,-3.95,6],[0.64,-3.5,4],[0.652,-3.85,5],[0.665,-3.6,3],[0.677,-4.05,6],[0.69,-3.75,4],
  [0.709,-3.5,4],[0.721,-3.9,6],[0.734,-3.35,3],[0.746,-3.7,5],[0.759,-4.0,4],[0.771,-3.6,6],[0.784,-3.8,4],[0.796,-3.45,5],
  [0.806,-3.85,6],[0.818,-3.5,3],[0.831,-4.05,5],[0.843,-3.7,4],[0.856,-3.35,6],[0.868,-3.95,4],[0.881,-3.6,3],[0.893,-3.4,5],
  [0.902,-3.6,5],[0.915,-3.95,4],[0.927,-3.35,6],[0.94,-3.75,4],[0.952,-4.1,5],[0.965,-3.5,3],[0.977,-3.85,6],[0.99,-3.65,4],
  [1.009,-3.4,4],[1.021,-3.9,6],[1.034,-3.6,3],[1.046,-3.8,5],[1.059,-4.0,4],[1.071,-3.45,6],[1.084,-3.7,4],[1.096,-3.55,5],
  [1.106,-4.0,6],[1.118,-3.4,3],[1.131,-3.8,5],[1.143,-3.55,4],[1.156,-3.3,6],[1.168,-3.9,4],[1.181,-3.7,3],[1.193,-3.45,5],
  [1.202,-3.8,5],[1.215,-3.55,4],[1.227,-4.1,6],[1.24,-3.35,4],[1.252,-3.7,5],[1.265,-3.9,3],[1.277,-3.45,6],[1.29,-3.65,4],
  [1.309,-3.5,4],[1.321,-3.9,6],[1.334,-3.35,3],[1.346,-3.7,5],[1.359,-4.0,4],[1.371,-3.6,6],[1.384,-3.8,4],[1.396,-3.45,5],
  [1.406,-3.7,6],[1.418,-4.0,3],[1.431,-3.45,5],[1.443,-3.9,4],[1.456,-3.3,6],[1.468,-3.65,4],[1.481,-3.95,3],[1.493,-3.5,5],
  [1.502,-3.3,5],[1.515,-3.65,4],[1.527,-3.95,6],[1.54,-3.5,4],[1.552,-3.85,5],[1.565,-3.6,3],[1.577,-4.05,6],[1.59,-3.75,4],
  [1.609,-3.6,4],[1.621,-3.95,6],[1.634,-3.35,3],[1.646,-3.75,5],[1.659,-4.1,4],[1.671,-3.5,6],[1.684,-3.85,4],[1.696,-3.65,5],
  [1.706,-3.85,6],[1.718,-3.5,3],[1.731,-4.05,5],[1.743,-3.7,4],[1.756,-3.35,6],[1.768,-3.95,4],[1.781,-3.6,3],[1.793,-3.4,5],
  [1.802,-3.4,5],[1.815,-3.9,4],[1.827,-3.6,6],[1.84,-3.8,4],[1.852,-4.0,5],[1.865,-3.45,3],[1.877,-3.7,6],[1.89,-3.55,4],
  [1.909,-4.0,4],[1.921,-3.4,6],[1.934,-3.8,3],[1.946,-3.55,5],[1.959,-3.3,4],[1.971,-3.9,6],[1.984,-3.7,4],[1.996,-3.45,5],
  [2.006,-3.5,6],[2.018,-3.9,3],[2.031,-3.35,5],[2.043,-3.7,4],[2.056,-4.0,6],[2.068,-3.6,4],[2.081,-3.8,3],[2.093,-3.45,5],
  [2.102,-3.8,5],[2.115,-3.55,4],[2.127,-4.1,6],[2.14,-3.35,4],[2.152,-3.7,5],[2.165,-3.9,3],[2.177,-3.45,6],[2.19,-3.65,4],
  [2.209,-3.3,4],[2.221,-3.65,6],[2.234,-3.95,3],[2.246,-3.5,5],[2.259,-3.85,4],[2.271,-3.6,6],[2.284,-4.05,4],[2.296,-3.75,5],
  [2.306,-3.7,6],[2.318,-4.0,3],[2.331,-3.45,5],[2.343,-3.9,4],[2.356,-3.3,6],[2.368,-3.65,4],[2.381,-3.95,3],[2.393,-3.5,5],
  [2.402,-3.6,5],[2.415,-3.95,4],[2.427,-3.35,6],[2.44,-3.75,4],[2.452,-4.1,5],[2.465,-3.5,3],[2.477,-3.85,6],[2.49,-3.65,4],
  [2.509,-3.85,4],[2.521,-3.5,6],[2.534,-4.05,3],[2.546,-3.7,5],[2.559,-3.35,4],[2.571,-3.95,6],[2.584,-3.6,4],[2.596,-3.4,5],
  [2.606,-3.4,6],[2.618,-3.9,3],[2.631,-3.6,5],[2.643,-3.8,4],[2.656,-4.0,6],[2.668,-3.45,4],[2.681,-3.7,3],[2.693,-3.55,5],
  [2.702,-3.5,5],[2.715,-3.9,4],[2.727,-3.35,6],[2.74,-3.7,4],[2.752,-4.0,5],[2.765,-3.6,3],[2.777,-3.8,6],[2.79,-3.45,4],
  [2.809,-4.0,4],[2.821,-3.4,6],[2.834,-3.8,3],[2.846,-3.55,5],[2.859,-3.3,4],[2.871,-3.9,6],[2.884,-3.7,4],[2.896,-3.45,5],
  [2.906,-3.3,6],[2.918,-3.65,3],[2.931,-3.95,5],[2.943,-3.5,4],[2.956,-3.85,6],[2.968,-3.6,4],[2.981,-4.05,3],[2.993,-3.75,5],
  [3.002,-3.8,5],[3.015,-3.55,4],[3.027,-4.1,6],[3.04,-3.35,4],[3.052,-3.7,5],[3.065,-3.9,3],[3.077,-3.45,6],[3.09,-3.65,4],
  [3.109,-3.6,4],[3.121,-3.95,6],[3.134,-3.35,3],[3.146,-3.75,5],[3.159,-4.1,4],[3.171,-3.5,6],[3.184,-3.85,4],[3.196,-3.65,5],
  [3.206,-3.7,6],[3.218,-4.0,3],[3.231,-3.45,5],[3.243,-3.9,4],[3.256,-3.3,6],[3.268,-3.65,4],[3.281,-3.95,3],[3.293,-3.5,5],
  [3.302,-3.85,5],[3.315,-3.5,4],[3.327,-4.05,6],[3.34,-3.7,4],[3.352,-3.35,5],[3.365,-3.95,3],[3.377,-3.6,6],[3.39,-3.4,4],
  [3.409,-3.5,4],[3.421,-3.9,6],[3.434,-3.35,3],[3.446,-3.7,5],[3.459,-4.0,4],[3.471,-3.6,6],[3.484,-3.8,4],[3.496,-3.45,5],
  [3.506,-3.4,6],[3.518,-3.9,3],[3.531,-3.6,5],[3.543,-3.8,4],[3.556,-4.0,6],[3.568,-3.45,4],[3.581,-3.7,3],[3.593,-3.55,5],
  [3.602,-4.0,5],[3.615,-3.4,4],[3.627,-3.8,6],[3.64,-3.55,4],[3.652,-3.3,5],[3.665,-3.9,3],[3.677,-3.7,6],[3.69,-3.45,4],
  [3.702,-3.65,5],[3.713,-3.85,4],
];
const tovOutliers: number[][] = [
  [0.54, 6.2], [0.71, 6.25], [1.18, 6.08], [0.58, 5.95], [1.836, 6.0], [2.186, 6.25], [2.246, 6.0], [3.206, 6.0], [3.246, 6.56], [3.266, 6.13], [3.686, 6.13],
  [0.336, -5.9], [0.386, -6.18], [0.516, -5.9], [0.556, -6.08], [0.71, -5.78], [0.76, -6.13], [0.936, -5.97], [1.006, -6.37], [1.146, -6.37], [1.152, -6.5], [1.206, -5.9], [1.366, -6.13], [1.406, -6.5], [1.416, -6.08], [1.586, -5.9], [1.626, -5.9], [2.196, -5.75], [2.276, -5.97], [2.626, -6.06], [2.866, -5.82], [3.246, -5.9], [3.316, -6.06], [3.696, -5.82],
];

// ---------- Chart 3 : STIM ΔTOV (sample ×10^5) ----------
const stimYTicks = [-0.1, 0, 0.1, 0.2];
// [level (us), start, end]
const stimRuns: number[][] = [
  [0.16, 1.405, 1.46],
  [0.15, 0.96, 1.52],
  [0.14, 0.71, 1.545],
  [0.13, 0.49, 1.8], [0.13, 3.196, 3.3], [0.13, 3.39, 3.48], [0.13, 3.63, 3.8], [0.13, 3.99, 4.08], [0.13, 4.27, 4.71], [0.13, 4.78, 5.07], [0.13, 5.21, 6.07],
  [0.12, 0.255, 1.96], [0.12, 2.16, 2.21], [0.12, 2.3, 2.33], [0.12, 2.38, 2.49], [0.12, 2.52, 6.3],
  [0.11, 0, 0.115], [0.11, 0.157, 6.3],
  [0.10, 0, 6.3], [0.09, 0, 6.3], [0.08, 0, 6.3], [0.07, 0, 6.3], [0.06, 0, 6.3], [0.05, 0, 6.3],
  [0.04, 0, 6.3], [0.03, 0, 6.3], [0.02, 0, 6.3], [0.01, 0, 6.3], [0.0, 0, 6.3], [-0.01, 0, 6.3],
  [-0.02, 0, 0.98], [-0.02, 1.49, 6.3],
  [-0.03, 0, 0.74], [-0.03, 1.54, 6.3],
  [-0.04, 0, 0.585], [-0.04, 1.65, 1.74], [-0.04, 1.79, 3.41], [-0.04, 3.425, 3.65], [-0.04, 3.71, 3.76], [-0.04, 3.83, 4.06], [-0.04, 4.12, 4.92], [-0.04, 4.98, 5.01], [-0.04, 5.11, 5.36], [-0.04, 5.61, 5.63], [-0.04, 5.72, 5.77], [-0.04, 5.87, 5.95], [-0.04, 6.03, 6.3],
  [-0.05, 0, 0.34], [-0.05, 1.93, 2.3], [-0.05, 2.35, 2.54],
  [-0.06, 0, 0.035], [-0.06, 0.063, 0.22],
];
const stimDots: number[][] = [
  [1.085, 0.16], [0.64, 0.14], [1.6, 0.14], [5.51, 0.14], [0.394, 0.13], [3.88, 0.13], [6.19, 0.13], [2.07, 0.12], [1.196, -0.02],
];

// ---------- helpers ----------
const tickFont = { color: INK, fontSize: 21, fontFamily: FONT };
const nameFont = { color: INK, fontSize: 24, fontFamily: FONT };

function bandSeries(axisIdx: number, xs: number[], lo: number[], hi: number[], stroke: number) {
  return {
    type: 'custom',
    xAxisIndex: axisIdx,
    yAxisIndex: axisIdx,
    silent: true,
    data: [[xs[0], lo[0]]],
    renderItem: (_p: any, api: any) => {
      const pts: number[][] = [];
      for (let i = 0; i < xs.length; i++) pts.push(api.coord([xs[i], hi[i]]));
      for (let i = xs.length - 1; i >= 0; i--) pts.push(api.coord([xs[i], lo[i]]));
      return {
        type: 'polygon',
        shape: { points: pts },
        style: { fill: BLUE, stroke: stroke > 0 ? BLUE : 'none', lineWidth: stroke, lineJoin: 'round' },
      };
    },
  };
}

function axesFor(g: number, xMax: number, xInt: number, yMin: number, yMax: number, yTicks: number[], yName: string, yGap: number) {
  const line = { show: true, onZero: false, lineStyle: { color: INK, width: 1 } };
  const tick = { show: true, inside: true, length: 6, lineStyle: { color: INK, width: 1 } };
  const xBottom = {
    gridIndex: g, type: 'value', position: 'bottom', min: 0, max: xMax, interval: xInt,
    axisLine: line, axisTick: tick, splitLine: { show: false },
    axisLabel: { ...tickFont, margin: 13 },
    name: 'Sample', nameLocation: 'middle', nameGap: 42, nameTextStyle: nameFont,
  };
  const xTop = {
    gridIndex: g, type: 'value', position: 'top', min: 0, max: xMax, interval: xInt,
    axisLine: line, axisTick: tick, splitLine: { show: false }, axisLabel: { show: false },
  };
  const yLeft = {
    gridIndex: g, type: 'value', position: 'left', min: yMin, max: yMax,
    axisLine: line,
    axisTick: { ...tick, customValues: yTicks },
    axisLabel: { ...tickFont, margin: 9, customValues: yTicks },
    splitLine: { show: false },
    name: yName, nameLocation: 'middle', nameGap: yGap, nameRotate: 90, nameTextStyle: nameFont,
  };
  const yRight = {
    gridIndex: g, type: 'value', position: 'right', min: yMin, max: yMax,
    axisLine: line, axisTick: { ...tick, customValues: yTicks }, axisLabel: { show: false },
    splitLine: { show: false },
  };
  return { xs: [xBottom, xTop], ys: [yLeft, yRight] };
}

function legendBox(x: number, y: number, w: number, h: number, dotX: number, textX: number, label: string) {
  return [
    { type: 'rect', z: 100, shape: { x, y, width: w, height: h }, style: { fill: '#fff', stroke: INK, lineWidth: 1 } },
    { type: 'circle', z: 101, shape: { cx: dotX, cy: y + h / 2, r: 2.6 }, style: { fill: BLUE } },
    { type: 'text', z: 101, x: textX, y: y + h / 2 + 0.5, style: { text: label, fontSize: 21.5, fontFamily: FONT, fill: '#000', textVerticalAlign: 'middle' } },
  ];
}

function exponent(yCenter: number, exp: string) {
  return [
    { type: 'text', z: 50, x: 745, y: yCenter, style: { text: '×10', fontSize: 22, fontFamily: FONT, fill: INK, textAlign: 'right', textVerticalAlign: 'middle' } },
    { type: 'text', z: 50, x: 746.5, y: yCenter - 10, style: { text: exp, fontSize: 16, fontFamily: FONT, fill: INK, textAlign: 'left', textVerticalAlign: 'middle' } },
  ];
}

function dotSeries(axisIdx: number, data: number[][], name?: string) {
  return {
    type: 'scatter', name, xAxisIndex: axisIdx, yAxisIndex: axisIdx, silent: true,
    symbol: 'circle', symbolSize: 5, itemStyle: { color: BLUE, opacity: 1 }, data,
  };
}

function gapSeries(axisIdx: number, data: number[][]) {
  return {
    type: 'scatter', xAxisIndex: axisIdx, yAxisIndex: axisIdx, silent: true, z: 3,
    symbol: 'circle',
    symbolSize: (v: number[]) => [v[2] * 1.3, v[2] * 0.75],
    itemStyle: { color: '#ffffff', opacity: 1 },
    data,
  };
}

function buildOption() {
  const a1 = axesFor(0, 4, 0.5, -310, 310, toaYTicks, 'ΔTOA error [us]', 58);
  const a2 = axesFor(1, 4, 0.5, -10.3, 10.46, tovYTicks, 'ΔTOV error [us]', 48);
  const a3 = axesFor(2, 7, 1, -0.1, 0.2, stimYTicks, 'ΔTOV error [us]', 53);

  return {
    animation: false,
    backgroundColor: '#fff',
    grid: [
      { left: 92.3, top: 6, width: 665.4, height: 294 },
      { left: 92.3, top: 417.5, width: 665.4, height: 293.5 },
      { left: 92.3, top: 826.7, width: 665.4, height: 296 },
    ],
    xAxis: [a1.xs[0], a1.xs[1], a2.xs[0], a2.xs[1], a3.xs[0], a3.xs[1]],
    yAxis: [a1.ys[0], a1.ys[1], a2.ys[0], a2.ys[1], a3.ys[0], a3.ys[1]],
    series: [
      // chart 1
      bandSeries(0, toaBandX, toaBandLower, toaBandUpper, 3),
      dotSeries(0, toaOutliersUpper, 'ADIS ΔTOA'),
      dotSeries(0, toaOutliersLower),
      // chart 2
      bandSeries(2, tovBandX, tovLower, tovUpper, 2),
      gapSeries(2, tovGapsTop),
      gapSeries(2, tovGapsBottom),
      dotSeries(2, tovOutliers, 'ADIS ΔTOV'),
      // chart 3
      {
        type: 'lines', name: 'STIM ΔTOV', coordinateSystem: 'cartesian2d', xAxisIndex: 4, yAxisIndex: 4,
        polyline: false, silent: true,
        lineStyle: { color: BLUE, width: 4.6, cap: 'round', opacity: 1 },
        data: stimRuns.map(([lv, s, e]) => ({ coords: [[s, lv], [e, lv]] })),
      },
      dotSeries(4, stimDots),
    ],
    graphic: [
      ...legendBox(533.3, 24.3, 204, 32.5, 575, 617, 'ADIS ΔTOA'),
      ...legendBox(533.3, 434.3, 204, 33, 575, 617, 'ADIS ΔTOV'),
      ...legendBox(531, 844, 206.3, 34.7, 572.7, 615, 'STIM ΔTOV'),
      ...exponent(359, '6'),
      ...exponent(770.5, '6'),
      ...exponent(1182, '5'),
    ],
  };
}

export default function App() {
  const ref = useRef<HTMLDivElement>(null);
  useEffect(() => {
    if (!ref.current) return;
    const chart = echarts.init(ref.current, undefined, { renderer: 'svg' });
    chart.setOption(buildOption() as any);
    return () => chart.dispose();
  }, []);
  return (
    <div
      ref={ref}
      style={{ position: 'absolute', left: 0, top: 0, width: 766, height: 1195, background: '#fff' }}
    />
  );
}
